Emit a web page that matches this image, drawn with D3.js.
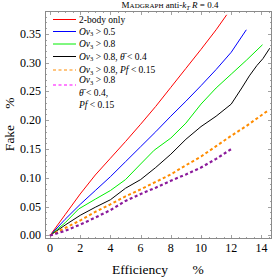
<!DOCTYPE html>
<html><head><meta charset="utf-8">
<script src="https://cdn.jsdelivr.net/npm/d3@7"></script>
<style>body{margin:0;background:#fff}svg{display:block}text{font-family:"Liberation Serif","DejaVu Serif",serif}</style>
</head><body><svg id="c" width="274" height="278"></svg>
<script>
const xTicks=[0,2,4,6,8,10,12,14];
const yTicks=[0,0.05,0.10,0.15,0.20,0.25,0.30,0.35];
const redX=[0,1,2,3,4,5,6,7,8,9,10,11,11.7];
const redY=[0,.036,.072,.105,.134,.163,.193,.224,.257,.29,.323,.357,.383];
const blueX=[0,1,2,3,4,5,6,7,8,9,10,11,12,13.0];
const blueY=[0,.028,.054,.078,.102,.128,.154,.18,.207,.233,.26,.288,.318,.357];
const greenX=[0,1,1.9,3,4,5,6,6.9,8,9,10,11,12,13,14.07];
const greenY=[0,.022,.046,.063,.078,.097,.124,.148,.169,.195,.228,.256,.28,.304,.331];
const blackX=[0,1,2,3,4,5,6,7,8,9,10,11,12,12.7,13.2,13.7,14.1,14.55];
const blackY=[0,.018,.035,.049,.062,.082,.097,.118,.141,.167,.189,.207,.228,.256,.277,.295,.307,.325];
const orangeX=[0,1,2,3,4,5,6,7,8,9,10,11,12,13,14.5];
const orangeY=[0,.013,.026,.041,.054,.068,.08,.093,.106,.122,.137,.155,.173,.19,.218];
const purpleX=[0,1,2,3,4,5,6,7,8,9,10,11,12.0];
const purpleY=[0,.008,.019,.031,.044,.06,.072,.083,.095,.106,.118,.133,.15];

const svg=d3.select("#c");
const L=45,R=272,T=11,B=239;
const x=d3.scaleLinear().domain([-0.33,14.7]).range([L,R]);
const y=d3.scaleLinear().domain([-0.0061,0.3896]).range([B,T]);
const fc="#8a8a8a";
// frame
svg.append("rect").attr("x",L+0.5).attr("y",T+0.5).attr("width",R-L-1).attr("height",B-T-1).attr("fill","none").attr("stroke",fc).attr("stroke-width",1);
// ticks
const g=svg.append("g").attr("stroke",fc).attr("stroke-width",0.8);
const xMinor=d3.range(0,14.71,0.5);
xMinor.forEach(v=>{const maj=xTicks.includes(v);const len=maj?4:2;const px=Math.round(x(v))+0.5;
 g.append("line").attr("x1",px).attr("x2",px).attr("y1",B).attr("y2",B-len);
 g.append("line").attr("x1",px).attr("x2",px).attr("y1",T).attr("y2",T+len);});
const yMinor=d3.range(0,0.386,0.01);
yMinor.forEach((v,i)=>{const maj=i%5===0;const len=maj?4:2;const py=Math.round(y(v))+0.5;
 g.append("line").attr("x1",L).attr("x2",L+len).attr("y1",py).attr("y2",py);
 g.append("line").attr("x1",R).attr("x2",R-len).attr("y1",py).attr("y2",py);});
// tick labels
xTicks.forEach(v=>svg.append("text").attr("x",x(v)).attr("y",252).attr("text-anchor","middle").attr("font-size",12).text(v));
yTicks.forEach(v=>svg.append("text").attr("x",41).attr("y",y(v)+4).attr("text-anchor","end").attr("font-size",12).text(v.toFixed(2)));
// axis titles
svg.append("text").attr("x",140).attr("y",274).attr("text-anchor","middle").attr("font-size",13.5).text("Efficiency");
svg.append("text").attr("x",198).attr("y",274).attr("text-anchor","middle").attr("font-size",13.5).text("%");
svg.append("text").attr("transform","translate(14,138) rotate(-90)").attr("text-anchor","middle").attr("font-size",13.5).text("Fake");
svg.append("text").attr("transform","translate(14,103) rotate(-90)").attr("text-anchor","middle").attr("font-size",13.5).text("%");
// title
const tt=svg.append("text").attr("x",170).attr("y",8).attr("text-anchor","middle").attr("font-size",9);
tt.append("tspan").text("M");tt.append("tspan").attr("font-size",7).text("ADGRAPH");
tt.append("tspan").text(" anti-");tt.append("tspan").attr("font-style","italic").text("k");
tt.append("tspan").attr("font-style","italic").attr("font-size",6.5).attr("dy",2).text("T");
tt.append("tspan").attr("dy",-2).text(" ");tt.append("tspan").attr("font-style","italic").text("R");tt.append("tspan").text(" = 0.4");
// series
const series=[
 {xs:redX,ys:redY,c:"#ff0000",w:1,d:null},
 {xs:blueX,ys:blueY,c:"#0000ff",w:1,d:null},
 {xs:greenX,ys:greenY,c:"#00ee00",w:1,d:null},
 {xs:blackX,ys:blackY,c:"#000000",w:1,d:null},
 {xs:orangeX,ys:orangeY,c:"#ff8c00",w:2,d:"3,2.5"},
 {xs:purpleX,ys:purpleY,c:"#8b1a9b",w:2.2,d:"3,2.5"}];
const line=d3.line().x(d=>x(d[0])).y(d=>y(d[1]));
series.forEach(s=>{const pts=s.xs.map((v,i)=>[v,s.ys[i]]);
 svg.append("path").attr("d",line(pts)).attr("fill","none").attr("stroke",s.c).attr("stroke-width",s.w).attr("stroke-dasharray",s.d).attr("stroke-linejoin","round");});
// legend
const lg=svg.append("g");
const lx1=53,lx2=76,tx=79;
const legendRows=[
 {c:"#ff0000",w:1,d:null,ly:19.5},
 {c:"#0000ff",w:1,d:null,ly:31.5},
 {c:"#00ee00",w:1,d:null,ly:44},
 {c:"#000000",w:1,d:null,ly:56.5},
 {c:"#ff8c00",w:1.2,d:"3,2.5",ly:70},
 {c:"#ff00ff",w:1.2,d:"3,2.5",ly:85}];
legendRows.forEach(r=>lg.append("line").attr("x1",lx1).attr("x2",lx2).attr("y1",r.ly).attr("y2",r.ly).attr("stroke",r.c).attr("stroke-width",r.w).attr("stroke-dasharray",r.d));
const fs=9.5;
function ov(t,yy){t.append("tspan").attr("font-style","italic").text("Ov");
 t.append("tspan").attr("font-size",6.5).attr("dy",1.8).text("3");
 t.append("tspan").attr("dy",-1.8).text(" > ");}
let t;
t=lg.append("text").attr("x",tx).attr("y",22.5).attr("font-size",fs).text("2-body only");
t=lg.append("text").attr("x",tx).attr("y",34.5).attr("font-size",fs);ov(t);t.append("tspan").text("0.5");
t=lg.append("text").attr("x",tx).attr("y",47).attr("font-size",fs);ov(t);t.append("tspan").text("0.8");
t=lg.append("text").attr("x",tx).attr("y",59.5).attr("font-size",fs);ov(t);t.append("tspan").text("0.8, ");
 t.append("tspan").attr("font-style","italic").text("\u03B8\u0304");t.append("tspan").text(" < 0.4");
t=lg.append("text").attr("x",tx).attr("y",73).attr("font-size",fs);ov(t);t.append("tspan").text("0.8, ");
 t.append("tspan").attr("font-style","italic").text("Pf");t.append("tspan").text(" < 0.15");
t=lg.append("text").attr("x",tx).attr("y",83).attr("font-size",fs);ov(t);t.append("tspan").text("0.8");
t=lg.append("text").attr("x",tx).attr("y",95.5).attr("font-size",fs);
 t.append("tspan").attr("font-style","italic").text("\u03B8\u0304");t.append("tspan").text(" < 0.4,");
t=lg.append("text").attr("x",tx).attr("y",107.5).attr("font-size",fs);
 t.append("tspan").attr("font-style","italic").text("Pf");t.append("tspan").text(" < 0.15");
</script></body></html>
